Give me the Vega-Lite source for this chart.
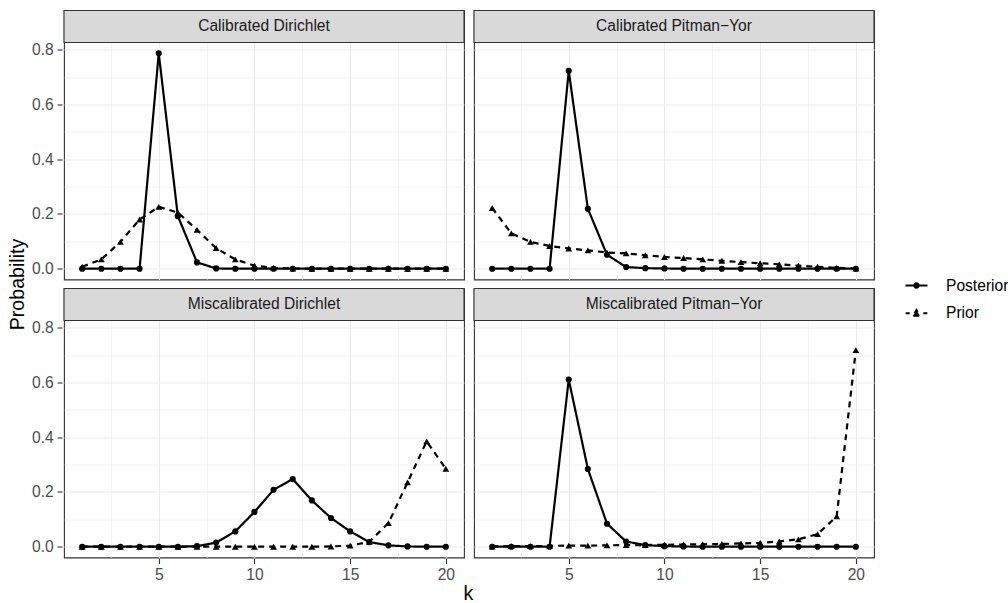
{
  "$schema": "https://vega.github.io/schema/vega-lite/v6.json",
  "padding": {"left": 8, "top": 8.5, "right": 0, "bottom": 0},
  "background": "white",
  "datasets": {
    "d": [
      {"cal":"Calibrated","model":"Dirichlet","panel":"Calibrated Dirichlet","type":"Posterior","k":1,"p":0},{"cal":"Calibrated","model":"Dirichlet","panel":"Calibrated Dirichlet","type":"Posterior","k":2,"p":0},{"cal":"Calibrated","model":"Dirichlet","panel":"Calibrated Dirichlet","type":"Posterior","k":3,"p":0},{"cal":"Calibrated","model":"Dirichlet","panel":"Calibrated Dirichlet","type":"Posterior","k":4,"p":0},{"cal":"Calibrated","model":"Dirichlet","panel":"Calibrated Dirichlet","type":"Posterior","k":5,"p":0.787},{"cal":"Calibrated","model":"Dirichlet","panel":"Calibrated Dirichlet","type":"Posterior","k":6,"p":0.192},{"cal":"Calibrated","model":"Dirichlet","panel":"Calibrated Dirichlet","type":"Posterior","k":7,"p":0.023},{"cal":"Calibrated","model":"Dirichlet","panel":"Calibrated Dirichlet","type":"Posterior","k":8,"p":0.001},{"cal":"Calibrated","model":"Dirichlet","panel":"Calibrated Dirichlet","type":"Posterior","k":9,"p":0},{"cal":"Calibrated","model":"Dirichlet","panel":"Calibrated Dirichlet","type":"Posterior","k":10,"p":0},{"cal":"Calibrated","model":"Dirichlet","panel":"Calibrated Dirichlet","type":"Posterior","k":11,"p":0},{"cal":"Calibrated","model":"Dirichlet","panel":"Calibrated Dirichlet","type":"Posterior","k":12,"p":0},{"cal":"Calibrated","model":"Dirichlet","panel":"Calibrated Dirichlet","type":"Posterior","k":13,"p":0},{"cal":"Calibrated","model":"Dirichlet","panel":"Calibrated Dirichlet","type":"Posterior","k":14,"p":0},{"cal":"Calibrated","model":"Dirichlet","panel":"Calibrated Dirichlet","type":"Posterior","k":15,"p":0},{"cal":"Calibrated","model":"Dirichlet","panel":"Calibrated Dirichlet","type":"Posterior","k":16,"p":0},{"cal":"Calibrated","model":"Dirichlet","panel":"Calibrated Dirichlet","type":"Posterior","k":17,"p":0},{"cal":"Calibrated","model":"Dirichlet","panel":"Calibrated Dirichlet","type":"Posterior","k":18,"p":0},{"cal":"Calibrated","model":"Dirichlet","panel":"Calibrated Dirichlet","type":"Posterior","k":19,"p":0},{"cal":"Calibrated","model":"Dirichlet","panel":"Calibrated Dirichlet","type":"Posterior","k":20,"p":0},
      {"cal":"Calibrated","model":"Dirichlet","panel":"Calibrated Dirichlet","type":"Prior","k":1,"p":0.007},{"cal":"Calibrated","model":"Dirichlet","panel":"Calibrated Dirichlet","type":"Prior","k":2,"p":0.034},{"cal":"Calibrated","model":"Dirichlet","panel":"Calibrated Dirichlet","type":"Prior","k":3,"p":0.098},{"cal":"Calibrated","model":"Dirichlet","panel":"Calibrated Dirichlet","type":"Prior","k":4,"p":0.18},{"cal":"Calibrated","model":"Dirichlet","panel":"Calibrated Dirichlet","type":"Prior","k":5,"p":0.226},{"cal":"Calibrated","model":"Dirichlet","panel":"Calibrated Dirichlet","type":"Prior","k":6,"p":0.205},{"cal":"Calibrated","model":"Dirichlet","panel":"Calibrated Dirichlet","type":"Prior","k":7,"p":0.142},{"cal":"Calibrated","model":"Dirichlet","panel":"Calibrated Dirichlet","type":"Prior","k":8,"p":0.075},{"cal":"Calibrated","model":"Dirichlet","panel":"Calibrated Dirichlet","type":"Prior","k":9,"p":0.034},{"cal":"Calibrated","model":"Dirichlet","panel":"Calibrated Dirichlet","type":"Prior","k":10,"p":0.011},{"cal":"Calibrated","model":"Dirichlet","panel":"Calibrated Dirichlet","type":"Prior","k":11,"p":0.003},{"cal":"Calibrated","model":"Dirichlet","panel":"Calibrated Dirichlet","type":"Prior","k":12,"p":0.001},{"cal":"Calibrated","model":"Dirichlet","panel":"Calibrated Dirichlet","type":"Prior","k":13,"p":0},{"cal":"Calibrated","model":"Dirichlet","panel":"Calibrated Dirichlet","type":"Prior","k":14,"p":0},{"cal":"Calibrated","model":"Dirichlet","panel":"Calibrated Dirichlet","type":"Prior","k":15,"p":0},{"cal":"Calibrated","model":"Dirichlet","panel":"Calibrated Dirichlet","type":"Prior","k":16,"p":0},{"cal":"Calibrated","model":"Dirichlet","panel":"Calibrated Dirichlet","type":"Prior","k":17,"p":0},{"cal":"Calibrated","model":"Dirichlet","panel":"Calibrated Dirichlet","type":"Prior","k":18,"p":0},{"cal":"Calibrated","model":"Dirichlet","panel":"Calibrated Dirichlet","type":"Prior","k":19,"p":0},{"cal":"Calibrated","model":"Dirichlet","panel":"Calibrated Dirichlet","type":"Prior","k":20,"p":0},
      {"cal":"Calibrated","model":"Pitman\u2212Yor","panel":"Calibrated Pitman\u2212Yor","type":"Posterior","k":1,"p":0},{"cal":"Calibrated","model":"Pitman\u2212Yor","panel":"Calibrated Pitman\u2212Yor","type":"Posterior","k":2,"p":0},{"cal":"Calibrated","model":"Pitman\u2212Yor","panel":"Calibrated Pitman\u2212Yor","type":"Posterior","k":3,"p":0},{"cal":"Calibrated","model":"Pitman\u2212Yor","panel":"Calibrated Pitman\u2212Yor","type":"Posterior","k":4,"p":0},{"cal":"Calibrated","model":"Pitman\u2212Yor","panel":"Calibrated Pitman\u2212Yor","type":"Posterior","k":5,"p":0.723},{"cal":"Calibrated","model":"Pitman\u2212Yor","panel":"Calibrated Pitman\u2212Yor","type":"Posterior","k":6,"p":0.219},{"cal":"Calibrated","model":"Pitman\u2212Yor","panel":"Calibrated Pitman\u2212Yor","type":"Posterior","k":7,"p":0.051},{"cal":"Calibrated","model":"Pitman\u2212Yor","panel":"Calibrated Pitman\u2212Yor","type":"Posterior","k":8,"p":0.006},{"cal":"Calibrated","model":"Pitman\u2212Yor","panel":"Calibrated Pitman\u2212Yor","type":"Posterior","k":9,"p":0.002},{"cal":"Calibrated","model":"Pitman\u2212Yor","panel":"Calibrated Pitman\u2212Yor","type":"Posterior","k":10,"p":0.001},{"cal":"Calibrated","model":"Pitman\u2212Yor","panel":"Calibrated Pitman\u2212Yor","type":"Posterior","k":11,"p":0},{"cal":"Calibrated","model":"Pitman\u2212Yor","panel":"Calibrated Pitman\u2212Yor","type":"Posterior","k":12,"p":0},{"cal":"Calibrated","model":"Pitman\u2212Yor","panel":"Calibrated Pitman\u2212Yor","type":"Posterior","k":13,"p":0},{"cal":"Calibrated","model":"Pitman\u2212Yor","panel":"Calibrated Pitman\u2212Yor","type":"Posterior","k":14,"p":0},{"cal":"Calibrated","model":"Pitman\u2212Yor","panel":"Calibrated Pitman\u2212Yor","type":"Posterior","k":15,"p":0},{"cal":"Calibrated","model":"Pitman\u2212Yor","panel":"Calibrated Pitman\u2212Yor","type":"Posterior","k":16,"p":0},{"cal":"Calibrated","model":"Pitman\u2212Yor","panel":"Calibrated Pitman\u2212Yor","type":"Posterior","k":17,"p":0},{"cal":"Calibrated","model":"Pitman\u2212Yor","panel":"Calibrated Pitman\u2212Yor","type":"Posterior","k":18,"p":0},{"cal":"Calibrated","model":"Pitman\u2212Yor","panel":"Calibrated Pitman\u2212Yor","type":"Posterior","k":19,"p":0},{"cal":"Calibrated","model":"Pitman\u2212Yor","panel":"Calibrated Pitman\u2212Yor","type":"Posterior","k":20,"p":0},
      {"cal":"Calibrated","model":"Pitman\u2212Yor","panel":"Calibrated Pitman\u2212Yor","type":"Prior","k":1,"p":0.222},{"cal":"Calibrated","model":"Pitman\u2212Yor","panel":"Calibrated Pitman\u2212Yor","type":"Prior","k":2,"p":0.129},{"cal":"Calibrated","model":"Pitman\u2212Yor","panel":"Calibrated Pitman\u2212Yor","type":"Prior","k":3,"p":0.098},{"cal":"Calibrated","model":"Pitman\u2212Yor","panel":"Calibrated Pitman\u2212Yor","type":"Prior","k":4,"p":0.083},{"cal":"Calibrated","model":"Pitman\u2212Yor","panel":"Calibrated Pitman\u2212Yor","type":"Prior","k":5,"p":0.074},{"cal":"Calibrated","model":"Pitman\u2212Yor","panel":"Calibrated Pitman\u2212Yor","type":"Prior","k":6,"p":0.067},{"cal":"Calibrated","model":"Pitman\u2212Yor","panel":"Calibrated Pitman\u2212Yor","type":"Prior","k":7,"p":0.059},{"cal":"Calibrated","model":"Pitman\u2212Yor","panel":"Calibrated Pitman\u2212Yor","type":"Prior","k":8,"p":0.056},{"cal":"Calibrated","model":"Pitman\u2212Yor","panel":"Calibrated Pitman\u2212Yor","type":"Prior","k":9,"p":0.049},{"cal":"Calibrated","model":"Pitman\u2212Yor","panel":"Calibrated Pitman\u2212Yor","type":"Prior","k":10,"p":0.043},{"cal":"Calibrated","model":"Pitman\u2212Yor","panel":"Calibrated Pitman\u2212Yor","type":"Prior","k":11,"p":0.039},{"cal":"Calibrated","model":"Pitman\u2212Yor","panel":"Calibrated Pitman\u2212Yor","type":"Prior","k":12,"p":0.034},{"cal":"Calibrated","model":"Pitman\u2212Yor","panel":"Calibrated Pitman\u2212Yor","type":"Prior","k":13,"p":0.029},{"cal":"Calibrated","model":"Pitman\u2212Yor","panel":"Calibrated Pitman\u2212Yor","type":"Prior","k":14,"p":0.024},{"cal":"Calibrated","model":"Pitman\u2212Yor","panel":"Calibrated Pitman\u2212Yor","type":"Prior","k":15,"p":0.02},{"cal":"Calibrated","model":"Pitman\u2212Yor","panel":"Calibrated Pitman\u2212Yor","type":"Prior","k":16,"p":0.016},{"cal":"Calibrated","model":"Pitman\u2212Yor","panel":"Calibrated Pitman\u2212Yor","type":"Prior","k":17,"p":0.011},{"cal":"Calibrated","model":"Pitman\u2212Yor","panel":"Calibrated Pitman\u2212Yor","type":"Prior","k":18,"p":0.007},{"cal":"Calibrated","model":"Pitman\u2212Yor","panel":"Calibrated Pitman\u2212Yor","type":"Prior","k":19,"p":0.003},{"cal":"Calibrated","model":"Pitman\u2212Yor","panel":"Calibrated Pitman\u2212Yor","type":"Prior","k":20,"p":0.001},
      {"cal":"Miscalibrated","model":"Dirichlet","panel":"Miscalibrated Dirichlet","type":"Posterior","k":1,"p":0},{"cal":"Miscalibrated","model":"Dirichlet","panel":"Miscalibrated Dirichlet","type":"Posterior","k":2,"p":0},{"cal":"Miscalibrated","model":"Dirichlet","panel":"Miscalibrated Dirichlet","type":"Posterior","k":3,"p":0},{"cal":"Miscalibrated","model":"Dirichlet","panel":"Miscalibrated Dirichlet","type":"Posterior","k":4,"p":0},{"cal":"Miscalibrated","model":"Dirichlet","panel":"Miscalibrated Dirichlet","type":"Posterior","k":5,"p":0},{"cal":"Miscalibrated","model":"Dirichlet","panel":"Miscalibrated Dirichlet","type":"Posterior","k":6,"p":0},{"cal":"Miscalibrated","model":"Dirichlet","panel":"Miscalibrated Dirichlet","type":"Posterior","k":7,"p":0.002},{"cal":"Miscalibrated","model":"Dirichlet","panel":"Miscalibrated Dirichlet","type":"Posterior","k":8,"p":0.015},{"cal":"Miscalibrated","model":"Dirichlet","panel":"Miscalibrated Dirichlet","type":"Posterior","k":9,"p":0.056},{"cal":"Miscalibrated","model":"Dirichlet","panel":"Miscalibrated Dirichlet","type":"Posterior","k":10,"p":0.127},{"cal":"Miscalibrated","model":"Dirichlet","panel":"Miscalibrated Dirichlet","type":"Posterior","k":11,"p":0.208},{"cal":"Miscalibrated","model":"Dirichlet","panel":"Miscalibrated Dirichlet","type":"Posterior","k":12,"p":0.247},{"cal":"Miscalibrated","model":"Dirichlet","panel":"Miscalibrated Dirichlet","type":"Posterior","k":13,"p":0.169},{"cal":"Miscalibrated","model":"Dirichlet","panel":"Miscalibrated Dirichlet","type":"Posterior","k":14,"p":0.105},{"cal":"Miscalibrated","model":"Dirichlet","panel":"Miscalibrated Dirichlet","type":"Posterior","k":15,"p":0.056},{"cal":"Miscalibrated","model":"Dirichlet","panel":"Miscalibrated Dirichlet","type":"Posterior","k":16,"p":0.017},{"cal":"Miscalibrated","model":"Dirichlet","panel":"Miscalibrated Dirichlet","type":"Posterior","k":17,"p":0.005},{"cal":"Miscalibrated","model":"Dirichlet","panel":"Miscalibrated Dirichlet","type":"Posterior","k":18,"p":0.001},{"cal":"Miscalibrated","model":"Dirichlet","panel":"Miscalibrated Dirichlet","type":"Posterior","k":19,"p":0},{"cal":"Miscalibrated","model":"Dirichlet","panel":"Miscalibrated Dirichlet","type":"Posterior","k":20,"p":0},
      {"cal":"Miscalibrated","model":"Dirichlet","panel":"Miscalibrated Dirichlet","type":"Prior","k":1,"p":0},{"cal":"Miscalibrated","model":"Dirichlet","panel":"Miscalibrated Dirichlet","type":"Prior","k":2,"p":0},{"cal":"Miscalibrated","model":"Dirichlet","panel":"Miscalibrated Dirichlet","type":"Prior","k":3,"p":0},{"cal":"Miscalibrated","model":"Dirichlet","panel":"Miscalibrated Dirichlet","type":"Prior","k":4,"p":0},{"cal":"Miscalibrated","model":"Dirichlet","panel":"Miscalibrated Dirichlet","type":"Prior","k":5,"p":0},{"cal":"Miscalibrated","model":"Dirichlet","panel":"Miscalibrated Dirichlet","type":"Prior","k":6,"p":0},{"cal":"Miscalibrated","model":"Dirichlet","panel":"Miscalibrated Dirichlet","type":"Prior","k":7,"p":0},{"cal":"Miscalibrated","model":"Dirichlet","panel":"Miscalibrated Dirichlet","type":"Prior","k":8,"p":0},{"cal":"Miscalibrated","model":"Dirichlet","panel":"Miscalibrated Dirichlet","type":"Prior","k":9,"p":0},{"cal":"Miscalibrated","model":"Dirichlet","panel":"Miscalibrated Dirichlet","type":"Prior","k":10,"p":0},{"cal":"Miscalibrated","model":"Dirichlet","panel":"Miscalibrated Dirichlet","type":"Prior","k":11,"p":0},{"cal":"Miscalibrated","model":"Dirichlet","panel":"Miscalibrated Dirichlet","type":"Prior","k":12,"p":0},{"cal":"Miscalibrated","model":"Dirichlet","panel":"Miscalibrated Dirichlet","type":"Prior","k":13,"p":0},{"cal":"Miscalibrated","model":"Dirichlet","panel":"Miscalibrated Dirichlet","type":"Prior","k":14,"p":0.001},{"cal":"Miscalibrated","model":"Dirichlet","panel":"Miscalibrated Dirichlet","type":"Prior","k":15,"p":0.004},{"cal":"Miscalibrated","model":"Dirichlet","panel":"Miscalibrated Dirichlet","type":"Prior","k":16,"p":0.018},{"cal":"Miscalibrated","model":"Dirichlet","panel":"Miscalibrated Dirichlet","type":"Prior","k":17,"p":0.086},{"cal":"Miscalibrated","model":"Dirichlet","panel":"Miscalibrated Dirichlet","type":"Prior","k":18,"p":0.235},{"cal":"Miscalibrated","model":"Dirichlet","panel":"Miscalibrated Dirichlet","type":"Prior","k":19,"p":0.385},{"cal":"Miscalibrated","model":"Dirichlet","panel":"Miscalibrated Dirichlet","type":"Prior","k":20,"p":0.285},
      {"cal":"Miscalibrated","model":"Pitman\u2212Yor","panel":"Miscalibrated Pitman\u2212Yor","type":"Posterior","k":1,"p":0},{"cal":"Miscalibrated","model":"Pitman\u2212Yor","panel":"Miscalibrated Pitman\u2212Yor","type":"Posterior","k":2,"p":0},{"cal":"Miscalibrated","model":"Pitman\u2212Yor","panel":"Miscalibrated Pitman\u2212Yor","type":"Posterior","k":3,"p":0},{"cal":"Miscalibrated","model":"Pitman\u2212Yor","panel":"Miscalibrated Pitman\u2212Yor","type":"Posterior","k":4,"p":0},{"cal":"Miscalibrated","model":"Pitman\u2212Yor","panel":"Miscalibrated Pitman\u2212Yor","type":"Posterior","k":5,"p":0.611},{"cal":"Miscalibrated","model":"Pitman\u2212Yor","panel":"Miscalibrated Pitman\u2212Yor","type":"Posterior","k":6,"p":0.284},{"cal":"Miscalibrated","model":"Pitman\u2212Yor","panel":"Miscalibrated Pitman\u2212Yor","type":"Posterior","k":7,"p":0.084},{"cal":"Miscalibrated","model":"Pitman\u2212Yor","panel":"Miscalibrated Pitman\u2212Yor","type":"Posterior","k":8,"p":0.019},{"cal":"Miscalibrated","model":"Pitman\u2212Yor","panel":"Miscalibrated Pitman\u2212Yor","type":"Posterior","k":9,"p":0.006},{"cal":"Miscalibrated","model":"Pitman\u2212Yor","panel":"Miscalibrated Pitman\u2212Yor","type":"Posterior","k":10,"p":0.002},{"cal":"Miscalibrated","model":"Pitman\u2212Yor","panel":"Miscalibrated Pitman\u2212Yor","type":"Posterior","k":11,"p":0.001},{"cal":"Miscalibrated","model":"Pitman\u2212Yor","panel":"Miscalibrated Pitman\u2212Yor","type":"Posterior","k":12,"p":0},{"cal":"Miscalibrated","model":"Pitman\u2212Yor","panel":"Miscalibrated Pitman\u2212Yor","type":"Posterior","k":13,"p":0},{"cal":"Miscalibrated","model":"Pitman\u2212Yor","panel":"Miscalibrated Pitman\u2212Yor","type":"Posterior","k":14,"p":0},{"cal":"Miscalibrated","model":"Pitman\u2212Yor","panel":"Miscalibrated Pitman\u2212Yor","type":"Posterior","k":15,"p":0},{"cal":"Miscalibrated","model":"Pitman\u2212Yor","panel":"Miscalibrated Pitman\u2212Yor","type":"Posterior","k":16,"p":0},{"cal":"Miscalibrated","model":"Pitman\u2212Yor","panel":"Miscalibrated Pitman\u2212Yor","type":"Posterior","k":17,"p":0},{"cal":"Miscalibrated","model":"Pitman\u2212Yor","panel":"Miscalibrated Pitman\u2212Yor","type":"Posterior","k":18,"p":0},{"cal":"Miscalibrated","model":"Pitman\u2212Yor","panel":"Miscalibrated Pitman\u2212Yor","type":"Posterior","k":19,"p":0},{"cal":"Miscalibrated","model":"Pitman\u2212Yor","panel":"Miscalibrated Pitman\u2212Yor","type":"Posterior","k":20,"p":0},
      {"cal":"Miscalibrated","model":"Pitman\u2212Yor","panel":"Miscalibrated Pitman\u2212Yor","type":"Prior","k":1,"p":0.001},{"cal":"Miscalibrated","model":"Pitman\u2212Yor","panel":"Miscalibrated Pitman\u2212Yor","type":"Prior","k":2,"p":0.002},{"cal":"Miscalibrated","model":"Pitman\u2212Yor","panel":"Miscalibrated Pitman\u2212Yor","type":"Prior","k":3,"p":0.002},{"cal":"Miscalibrated","model":"Pitman\u2212Yor","panel":"Miscalibrated Pitman\u2212Yor","type":"Prior","k":4,"p":0.003},{"cal":"Miscalibrated","model":"Pitman\u2212Yor","panel":"Miscalibrated Pitman\u2212Yor","type":"Prior","k":5,"p":0.004},{"cal":"Miscalibrated","model":"Pitman\u2212Yor","panel":"Miscalibrated Pitman\u2212Yor","type":"Prior","k":6,"p":0.004},{"cal":"Miscalibrated","model":"Pitman\u2212Yor","panel":"Miscalibrated Pitman\u2212Yor","type":"Prior","k":7,"p":0.005},{"cal":"Miscalibrated","model":"Pitman\u2212Yor","panel":"Miscalibrated Pitman\u2212Yor","type":"Prior","k":8,"p":0.006},{"cal":"Miscalibrated","model":"Pitman\u2212Yor","panel":"Miscalibrated Pitman\u2212Yor","type":"Prior","k":9,"p":0.006},{"cal":"Miscalibrated","model":"Pitman\u2212Yor","panel":"Miscalibrated Pitman\u2212Yor","type":"Prior","k":10,"p":0.007},{"cal":"Miscalibrated","model":"Pitman\u2212Yor","panel":"Miscalibrated Pitman\u2212Yor","type":"Prior","k":11,"p":0.008},{"cal":"Miscalibrated","model":"Pitman\u2212Yor","panel":"Miscalibrated Pitman\u2212Yor","type":"Prior","k":12,"p":0.009},{"cal":"Miscalibrated","model":"Pitman\u2212Yor","panel":"Miscalibrated Pitman\u2212Yor","type":"Prior","k":13,"p":0.01},{"cal":"Miscalibrated","model":"Pitman\u2212Yor","panel":"Miscalibrated Pitman\u2212Yor","type":"Prior","k":14,"p":0.012},{"cal":"Miscalibrated","model":"Pitman\u2212Yor","panel":"Miscalibrated Pitman\u2212Yor","type":"Prior","k":15,"p":0.014},{"cal":"Miscalibrated","model":"Pitman\u2212Yor","panel":"Miscalibrated Pitman\u2212Yor","type":"Prior","k":16,"p":0.019},{"cal":"Miscalibrated","model":"Pitman\u2212Yor","panel":"Miscalibrated Pitman\u2212Yor","type":"Prior","k":17,"p":0.027},{"cal":"Miscalibrated","model":"Pitman\u2212Yor","panel":"Miscalibrated Pitman\u2212Yor","type":"Prior","k":18,"p":0.046},{"cal":"Miscalibrated","model":"Pitman\u2212Yor","panel":"Miscalibrated Pitman\u2212Yor","type":"Prior","k":19,"p":0.111},{"cal":"Miscalibrated","model":"Pitman\u2212Yor","panel":"Miscalibrated Pitman\u2212Yor","type":"Prior","k":20,"p":0.718}
    ],
    "ytitle": [{"t": "Probability"}],
    "xtitle": [{"t": "k"}]
  },
  "spacing": 0,
  "vconcat": [
    {
      "spacing": 3,
      "hconcat": [
        {
          "data": {"name": "ytitle"},
          "width": 20, "height": 548,
          "view": {"stroke": null},
          "mark": {"type": "text", "angle": 270, "fontSize": 19.6, "color": "black"},
          "encoding": {"text": {"field": "t"}}
        },
        {
          "data": {"name": "d"},
          "facet": {
            "row": {"field": "cal", "type": "nominal", "sort": ["Calibrated", "Miscalibrated"], "header": null},
            "column": {"field": "model", "type": "nominal", "sort": ["Dirichlet", "Pitman\u2212Yor"], "header": null}
          },
          "spacing": {"row": 6, "column": 6},
          "spec": {
            "width": 400,
            "height": 269,
            "view": {"stroke": "#333333", "strokeWidth": 1.1, "fill": "white"},
            "encoding": {
              "x": {"field": "k", "type": "quantitative", "scale": {"domain": [0.05, 20.95], "nice": false, "zero": false},
                    "axis": {"values": [2.5,5,7.5,10,12.5,15,17.5,20], "labelExpr": "datum.value % 5 === 0 ? format(datum.value, 'd') : ''", "labelOverlap": false, "labelFlush": false, "domain": false, "grid": true, "gridColor": "#EBEBEB", "gridWidth": {"condition": {"test": "datum.value % 5 !== 0", "value": 0.55}, "value": 1.1}, "tickColor": "#333333", "tickWidth": 1.1, "tickSize": 4.9, "tickOpacity": {"condition": {"test": "datum.value % 5 !== 0", "value": 0}, "value": 1}, "labelColor": "#4D4D4D", "labelFontSize": 15.6, "labelPadding": 3.9, "title": null}},
              "y": {"field": "p", "type": "quantitative", "scale": {"domain": [-0.0394, 0.9433], "nice": false, "zero": false},
                    "axis": {"values": [0,0.1,0.2,0.3,0.4,0.5,0.6,0.7,0.8], "labelExpr": "round(datum.value*10) % 2 === 0 ? format(datum.value, '.1f') : ''", "labelOverlap": false, "labelFlush": false, "domain": false, "grid": true, "gridColor": "#EBEBEB", "gridWidth": {"condition": {"test": "round(datum.value*10) % 2 === 1", "value": 0.55}, "value": 1.1}, "tickColor": "#333333", "tickWidth": 1.1, "tickSize": 4.9, "tickOpacity": {"condition": {"test": "round(datum.value*10) % 2 === 1", "value": 0}, "value": 1}, "labelColor": "#4D4D4D", "labelFontSize": 15.6, "labelPadding": 3.9, "title": null}}
            },
            "layer": [
              {"transform": [{"filter": "datum.k === 1 && datum.type === 'Posterior'"}],
               "mark": {"type": "rect", "fill": "#D9D9D9", "stroke": "#333333", "strokeWidth": 1.1},
               "encoding": {"x": {"datum": 0.05, "type": "quantitative"}, "x2": {"datum": 20.95}, "y": {"datum": 0.8264, "type": "quantitative"}, "y2": {"datum": 0.9433}}},
              {"transform": [{"filter": "datum.k === 1 && datum.type === 'Posterior'"}],
               "mark": {"type": "text", "fontSize": 15.6, "color": "#1A1A1A", "baseline": "middle", "align": "center"},
               "encoding": {"x": {"datum": 10.5, "type": "quantitative"}, "y": {"datum": 0.8849, "type": "quantitative"}, "text": {"field": "panel"}}},
              {"mark": {"type": "line", "color": "black", "strokeWidth": 2.2},
               "encoding": {"strokeDash": {"field": "type", "type": "nominal", "scale": {"domain": ["Posterior", "Prior"], "range": [[1, 0], [6, 5]]},
                 "legend": {"title": null, "orient": "none", "legendX": 897.5, "legendY": 264, "symbolSize": 400, "labelFontSize": 15.6, "labelColor": "black", "labelOffset": 18.5, "rowPadding": 7.7, "symbolStrokeWidth": 2, "symbolStrokeColor": "black", "symbolFillColor": "black",
                   "encode": {"symbols": {"update": {"shape": {"signal": "datum.value === 'Prior' ? 'M-1.08,0H-0.68M0.68,0H1.08M-0.33,0.25L0.33,0.25L0,-0.32Z' : 'M-1.1,0H1.1M-0.22,0A0.22,0.22,0,1,1,0.22,0A0.22,0.22,0,1,1,-0.22,0Z'"}, "strokeDash": {"value": []}, "fill": {"value": "black"}, "stroke": {"value": "black"}, "strokeWidth": {"value": 2}, "opacity": {"value": 1}}}}}}}},
              {"transform": [{"filter": "datum.type === 'Posterior'"}], "mark": {"type": "point", "shape": "circle", "filled": true, "color": "black", "opacity": 1, "size": 38}},
              {"transform": [{"filter": "datum.type === 'Prior'"}], "mark": {"type": "point", "shape": "triangle-up", "filled": true, "color": "black", "opacity": 1, "size": 46}}
            ]
          }
        }
      ]
    },
    {
      "data": {"name": "xtitle"},
      "width": 921, "height": 20,
      "view": {"stroke": null},
      "mark": {"type": "text", "fontSize": 19.6, "color": "black"},
      "encoding": {"text": {"field": "t"}}
    }
  ],
  "config": {
    "font": "Liberation Sans"
  }
}
